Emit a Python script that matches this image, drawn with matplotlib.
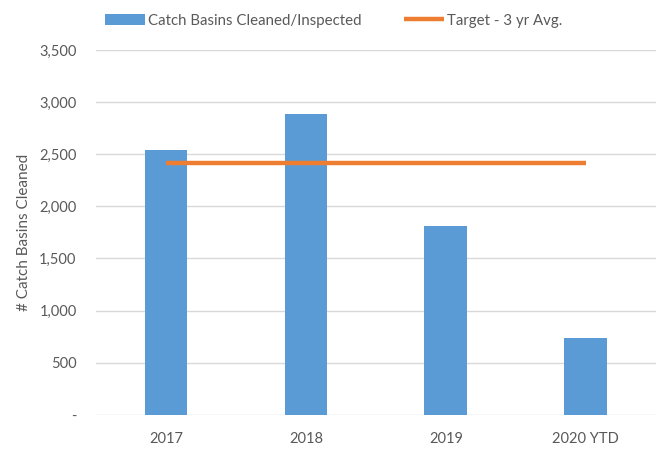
import matplotlib
matplotlib.use("Agg")
import matplotlib.pyplot as plt
from matplotlib.ticker import FuncFormatter

# data
years = ["2017", "2018", "2019", "2020 YTD"]
basins_cleaned = [2540, 2890, 1815, 735]
target_avg = [2420, 2420, 2420, 2420]

plt.rcParams['font.family'] = ['Lato', 'DejaVu Sans']
grey = "#595959"

fig = plt.figure(figsize=(6.67, 4.5), dpi=100)
ax = fig.add_axes([0.144, 0.078, 0.839, 0.811])

x = list(range(len(years)))
bars = ax.bar(x, basins_cleaned, width=0.305, color="#5B9BD5", zorder=2,
              label="Catch Basins Cleaned/Inspected")
line, = ax.plot(x, target_avg, color="#ED7D31", linewidth=3.2, zorder=3,
                solid_capstyle="butt", label="Target - 3 yr Avg.")

ax.set_xlim(-0.5, len(years) - 0.5)
ax.set_ylim(0, 3500)
ax.set_yticks(range(0, 3501, 500))
ax.yaxis.set_major_formatter(FuncFormatter(lambda v, p: "-" if v == 0 else f"{int(v):,}"))
ax.set_xticks(x)
ax.set_xticklabels(years)
ax.tick_params(axis="both", length=0, colors=grey, labelsize=10.5)
ax.tick_params(axis="y", pad=14)
ax.tick_params(axis="x", pad=12)

ax.grid(axis="y", color="#D9D9D9", linewidth=1, zorder=0)
for s in ax.spines.values():
    s.set_visible(False)

ax.set_ylabel("# Catch Basins Cleaned", color=grey, fontsize=11, labelpad=6)

fig.legend(handles=[bars, line], loc="upper center", bbox_to_anchor=(0.5, 1.0),
           ncol=2, frameon=False, fontsize=10.8, labelcolor=grey,
           handlelength=2.7, columnspacing=2.8, handletextpad=0.2)

fig.savefig("out.png", dpi=100)
